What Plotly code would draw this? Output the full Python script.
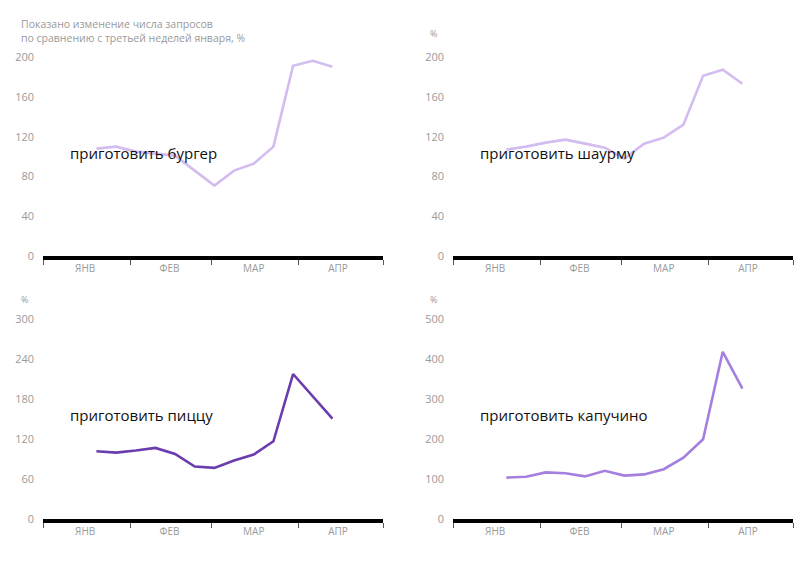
import plotly.graph_objects as go

# weekly points, search interest vs the 3rd week of January, %
weeks = ['2020-01-20', '2020-01-27', '2020-02-03', '2020-02-10', '2020-02-17',
         '2020-02-24', '2020-03-02', '2020-03-09', '2020-03-16', '2020-03-23',
         '2020-03-30', '2020-04-06', '2020-04-13']

burger = [108, 110, 105, 103, 101, 86, 71, 86, 93, 110, 191, 196, 190]
shawarma = [107, 110, 114, 117, 113, 109, 98, 113, 119, 132, 181, 187, 173]
pizza = [102, 100, 103, 107, 98, 79, 77, 88, 97, 117, 218, 184, 151]
cappuccino = [104, 106, 117, 115, 107, 121, 109, 112, 125, 154, 200, 419, 327]

month_starts = ['2020-01-01', '2020-02-01', '2020-03-01', '2020-04-01', '2020-05-01']
month_mids = ['2020-01-16', '2020-02-15', '2020-03-16', '2020-04-15']
month_labels = ['ЯНВ', 'ФЕВ', 'МАР', 'АПР']

panels = [
    # name, values, colour, y max, y step, axis suffix
    ('приготовить бургер', burger, '#d3bcef', 200, 40, ''),
    ('приготовить шаурму', shawarma, '#d3bcef', 200, 40, '2'),
    ('приготовить пиццу', pizza, '#6a3cae', 300, 60, '3'),
    ('приготовить капучино', cappuccino, '#a57fdf', 500, 100, '4'),
]

# page body has an 8px margin, so the figure is a bit smaller than the window;
# the shot also comes out slightly squeezed vertically, correct for that
OFF = 8
W, H = 807 - 2 * OFF, 566 - 2 * OFF
VA, VB = 7.4, 0.974


def px(v):
    return (v - OFF) / W


def py(v):
    v = (v - VA) / VB
    return 1 - (v - OFF) / H


x_dom = [[px(43), px(383)], [px(453), px(793)]]
y_dom = [[py(256), py(56)], [py(519), py(319)]]

fig = go.Figure()
grey = '#9a9a9a'

for i, (name, vals, col, ymax, step, sfx) in enumerate(panels):
    fig.add_trace(go.Scatter(
        x=weeks, y=vals, mode='lines',
        line=dict(color=col, width=2.6),
        xaxis='x' + sfx, yaxis='y' + sfx,
        showlegend=False, hoverinfo='skip'
    ))
    col_i, row_i = i % 2, i // 2
    fig.layout['xaxis' + sfx] = dict(
        domain=x_dom[col_i], anchor='y' + sfx, type='date',
        range=[month_starts[0], month_starts[-1]],
        tickmode='array', tickvals=month_mids, ticktext=month_labels,
        ticks='', tickfont=dict(size=10, color=grey, family='Open Sans'),
        showline=True, linecolor='black', linewidth=4,
        showgrid=False, zeroline=False, fixedrange=True,
        minor=dict(tickmode='array', tickvals=month_starts, ticks='outside',
                   ticklen=5, tickcolor='#555', tickwidth=1, showgrid=False),
    )
    fig.layout['yaxis' + sfx] = dict(
        domain=y_dom[row_i], anchor='x' + sfx,
        range=[0, ymax], tickmode='linear', tick0=0, dtick=step,
        ticks='', ticklabelstandoff=8,
        tickfont=dict(size=11, color=grey, family='Open Sans'),
        showgrid=False, zeroline=False, showline=False, fixedrange=True,
    )
    fig.add_annotation(
        text=name, xref='x' + sfx + ' domain', yref='y' + sfx + ' domain',
        x=25 / 340, y=0.52, xanchor='left', yanchor='middle', showarrow=False,
        font=dict(size=15, color='#111', family='Open Sans')
    )

# unit captions
fig.add_annotation(
    text='Показано изменение числа запросов<br>по сравнению с третьей неделей января, %',
    xref='paper', yref='paper', x=px(19), y=py(14), xanchor='left', yanchor='top',
    align='left', showarrow=False, font=dict(size=10.5, color=grey, family='Open Sans')
)
for cx, cy in [(428, 33), (19, 299), (428, 299)]:
    fig.add_annotation(
        text='%', xref='paper', yref='paper', x=px(cx), y=py(cy),
        xanchor='left', yanchor='middle', showarrow=False,
        font=dict(size=9, color=grey, family='Open Sans')
    )

fig.update_layout(
    width=W, height=H,
    margin=dict(l=0, r=0, t=0, b=0),
    paper_bgcolor='white', plot_bgcolor='white',
)

fig.write_html("out.html")
